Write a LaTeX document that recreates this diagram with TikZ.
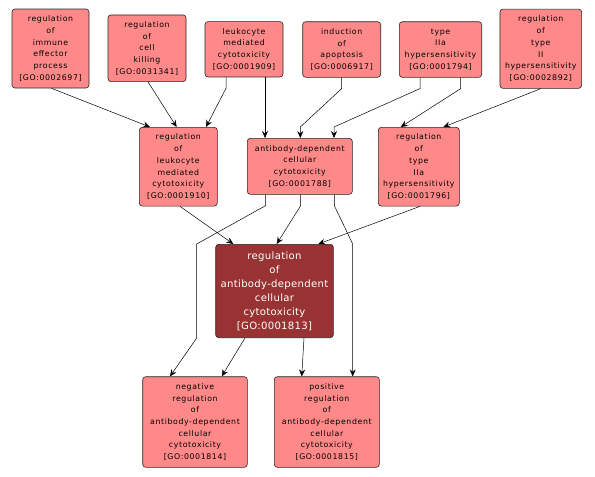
\documentclass[tikz,border=0pt]{standalone}
\usepackage{fontspec}
\setmainfont{DejaVu Sans}
\usetikzlibrary{arrows.meta}
\definecolor{goterm}{RGB}{255,137,137}
\definecolor{goquery}{RGB}{153,51,51}
\newfontfamily\termfont[LetterSpace=8]{DejaVu Sans}
\newfontfamily\queryfont[LetterSpace=3]{DejaVu Sans}

\tikzset{
  term/.style={draw=black!85, fill=goterm, rounded corners=3pt, align=center,
    inner sep=0pt, line width=0.6pt, font=\termfont\fontsize{7.8}{11.7}\selectfont},
  query/.style={term, fill=goquery, text=white, font=\queryfont\fontsize{10.1}{14}\selectfont},
  isa/.style={-{Stealth[length=7pt,width=6pt,inset=2.5pt]}, line width=0.5pt},
}

\begin{document}
\begin{tikzpicture}[x=1pt,y=-1pt]
  \useasboundingbox[fill=white] (0,0) rectangle (595,477);

  % top row
  \node[term, minimum width=77pt, minimum height=79pt] (rie) at (50.5,48.5)
    {regulation\\of\\immune\\effector\\process\\{[GO:0002697]}};
  \node[term, minimum width=78pt, minimum height=66.7pt] (rck) at (147,48.3)
    {regulation\\of\\cell\\killing\\{[GO:0031341]}};
  \node[term, minimum width=78pt, minimum height=55.3pt] (lmc) at (244,49.3)
    {leukocyte\\mediated\\cytotoxicity\\{[GO:0001909]}};
  \node[term, minimum width=78pt, minimum height=55.6pt] (apo) at (341.7,49.5)
    {induction\\of\\apoptosis\\{[GO:0006917]}};
  \node[term, minimum width=82.4pt, minimum height=55.6pt] (t2a) at (440.5,49.5)
    {type\\IIa\\hypersensitivity\\{[GO:0001794]}};
  \node[term, minimum width=81.7pt, minimum height=79.3pt] (rt2) at (540.8,48.7)
    {regulation\\of\\type\\II\\hypersensitivity\\{[GO:0002892]}};

  % middle row
  \node[term, minimum width=78pt, minimum height=78.7pt] (rlmc) at (178.3,166.7)
    {regulation\\of\\leukocyte\\mediated\\cytotoxicity\\{[GO:0001910]}};
  \node[term, minimum width=105pt, minimum height=56pt] (adcc) at (299.8,166.3)
    {antibody-dependent\\cellular\\cytotoxicity\\{[GO:0001788]}};
  \node[term, minimum width=81pt, minimum height=78.7pt] (rt2a) at (418.8,166.7)
    {regulation\\of\\type\\IIa\\hypersensitivity\\{[GO:0001796]}};

  % query term
  \node[query, minimum width=117.6pt, minimum height=93.4pt] (radcc) at (274.5,291)
    {regulation\\of\\antibody-dependent\\cellular\\cytotoxicity\\{[GO:0001813]}};

  % bottom row
  \node[term, minimum width=104.6pt, minimum height=90.6pt] (nradcc) at (195,422)
    {negative\\regulation\\of\\antibody-dependent\\cellular\\cytotoxicity\\{[GO:0001814]}};
  \node[term, minimum width=105pt, minimum height=90.6pt] (pradcc) at (326.8,422)
    {positive\\regulation\\of\\antibody-dependent\\cellular\\cytotoxicity\\{[GO:0001815]}};

  \coordinate (bendl) at (196.7,244);
  \coordinate (bendlb) at (196.7,338);
  \coordinate (bendr) at (352.7,244);

  % edges
  \draw[isa] ([xshift=1pt]rie.south) -- ([xshift=-28.3pt]rlmc.north);
  \draw[isa] ([xshift=1pt]rck.south) -- ([xshift=-1.6pt]rlmc.north);
  \draw[isa] ([xshift=-18pt]lmc.south) -- ++(0,11) -- ([xshift=27.7pt]rlmc.north);
  \draw[isa] ([xshift=21pt]lmc.south) -- ([xshift=-34.8pt]adcc.north);
  \draw[isa] (apo.south) -- ++(0,11) -- ([xshift=0.5pt,yshift=11pt]adcc.north)
    -- ([xshift=0.5pt]adcc.north);
  \draw[isa] ([xshift=-20.5pt]t2a.south) -- ++(0,11) -- ([xshift=34.2pt,yshift=11pt]adcc.north)
    -- ([xshift=34.2pt]adcc.north);
  \draw[isa] ([xshift=20.2pt]t2a.south) -- ++(0,11) -- ([xshift=-18.1pt]rt2a.north);
  \draw[isa] (rt2.south) -- ([xshift=24.5pt]rt2a.north);

  \draw[isa] ([xshift=1.7pt]rlmc.south) -- ([xshift=-41.2pt]radcc.north);
  \draw[isa] ([xshift=0.9pt]adcc.south) -- ++(0,11) -- ([xshift=2.2pt]radcc.north);
  \draw[isa] ([xshift=1.2pt]rt2a.south) -- ([xshift=43.8pt]radcc.north);

  \draw[isa] ([xshift=-34.1pt]adcc.south) -- ++(0,11) -- (bendl) -- (bendlb)
    -- ([xshift=-25pt]nradcc.north);
  \draw[isa] ([xshift=34.5pt]adcc.south) -- ++(0,11) -- (bendr)
    -- ([xshift=25.9pt]pradcc.north);
  \draw[isa] ([xshift=-29.5pt]radcc.south) -- ([xshift=26.7pt]nradcc.north);
  \draw[isa] ([xshift=29.5pt]radcc.south) -- ([xshift=-25.1pt]pradcc.north);
\end{tikzpicture}
\end{document}
